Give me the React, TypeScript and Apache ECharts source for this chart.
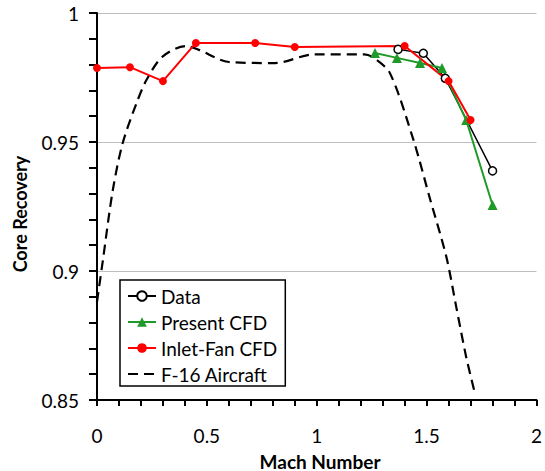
import React, { useEffect, useRef } from "react";
import * as echarts from "echarts";

const dataX = [1.37, 1.485, 1.585, 1.8];
const dataY = [0.9859, 0.9844, 0.9747, 0.9388];

const presentX = [1.265, 1.365, 1.47, 1.57, 1.68, 1.8];
const presentY = [0.9845, 0.9826, 0.9806, 0.9787, 0.9585, 0.9256];

const inletX = [0, 0.15, 0.3, 0.45, 0.72, 0.9, 1.4, 1.6, 1.7];
const inletY = [0.9787, 0.979, 0.9736, 0.9884, 0.9884, 0.9868, 0.9872, 0.9736, 0.9585];

const f16X = [0, 0.027, 0.072, 0.117, 0.18, 0.225, 0.297, 0.405, 0.464, 0.6, 0.81, 0.99, 1.216, 1.26, 1.333, 1.44, 1.513, 1.59, 1.635, 1.68, 1.716];
const f16Y = [0.888, 0.9043, 0.9314, 0.9496, 0.9651, 0.974, 0.983, 0.9872, 0.9857, 0.981, 0.9806, 0.984, 0.984, 0.9826, 0.9767, 0.9508, 0.9287, 0.9054, 0.886, 0.8667, 0.8539];

const seriesNames = ["Data", "Present CFD", "Inlet-Fan CFD", "F-16 Aircraft"];
const xTitle = "Mach Number";
const yTitle = "Core Recovery";

const zip = (xs: number[], ys: number[]) => xs.map((x, i) => [x, ys[i]]);

const FONT = "Lato";
const GREEN = "#1f9a28";

export default function App() {
  const ref = useRef<HTMLDivElement>(null);
  useEffect(() => {
    const chart = echarts.init(ref.current!, null, { renderer: "svg" });
    chart.setOption({
      animation: false,
      backgroundColor: "#fff",
      grid: { left: 97, right: 4, top: 13, bottom: 71 },
      xAxis: {
        type: "value",
        min: 0,
        max: 2,
        interval: 0.5,
        axisLine: { show: true, onZero: false, lineStyle: { color: "#000", width: 2 } },
        axisTick: { show: true, length: 6, lineStyle: { color: "#000", width: 2 } },
        minorTick: { show: true, splitNumber: 5, length: 6, lineStyle: { color: "#000", width: 2 } },
        splitLine: { show: false },
        axisLabel: { color: "#000", fontSize: 19, margin: 26, fontFamily: FONT },
      },
      yAxis: {
        type: "value",
        min: 0.85,
        max: 1,
        interval: 0.05,
        axisLine: { show: true, lineStyle: { color: "#000", width: 2 } },
        axisTick: { show: true, length: 8, lineStyle: { color: "#000", width: 2 } },
        minorTick: { show: true, splitNumber: 5, length: 8, lineStyle: { color: "#000", width: 2 } },
        splitLine: { show: true, lineStyle: { color: "#bfbfbf", width: 1 } },
        axisLabel: { color: "#000", fontSize: 19, margin: 18, fontFamily: FONT },
      },
      legend: {
        orient: "vertical",
        left: 120,
        top: 280,
        padding: [6, 8, 2, 7],
        borderColor: "#000",
        borderWidth: 1.5,
        backgroundColor: "#fff",
        itemWidth: 28,
        itemHeight: 12,
        itemGap: 6,
        textStyle: { color: "#000", fontSize: 19, lineHeight: 20, fontFamily: FONT },
        data: [
          { name: seriesNames[0] },
          { name: seriesNames[1] },
          { name: seriesNames[2] },
          { name: seriesNames[3], itemStyle: { opacity: 0 } },
        ],
      },
      graphic: [
        {
          type: "text",
          x: 20,
          y: 214,
          rotation: Math.PI / 2,
          style: { text: yTitle, fill: "#000", font: `bold 18px ${FONT}`, align: "center", verticalAlign: "middle" },
        },
        {
          type: "text",
          x: 320,
          y: 461,
          style: { text: xTitle, fill: "#000", font: `bold 19px ${FONT}`, align: "center", verticalAlign: "middle" },
        },
      ],
      series: [
        {
          name: seriesNames[3],
          type: "line",
          data: zip(f16X, f16Y),
          symbol: "none",
          smooth: 0.3,
          lineStyle: { color: "#000", width: 2.2, type: [10, 6] },
          itemStyle: { color: "#000" },
        },
        {
          name: seriesNames[0],
          type: "line",
          data: zip(dataX, dataY),
          symbol: "circle",
          symbolSize: 8,
          lineStyle: { color: "#000", width: 1.5 },
          itemStyle: { color: "#fff", borderColor: "#000", borderWidth: 1.5 },
        },
        {
          name: seriesNames[1],
          type: "line",
          data: zip(presentX, presentY),
          symbol: "triangle",
          symbolSize: 10,
          lineStyle: { color: GREEN, width: 2 },
          itemStyle: { color: GREEN },
        },
        {
          name: seriesNames[2],
          type: "line",
          data: zip(inletX, inletY),
          symbol: "circle",
          symbolSize: 8,
          lineStyle: { color: "#ff0000", width: 2 },
          itemStyle: { color: "#ff0000" },
        },
      ],
    });
    return () => chart.dispose();
  }, []);
  return <div ref={ref} style={{ position: "fixed", left: 0, top: 0, width: 545, height: 471 }} />;
}
